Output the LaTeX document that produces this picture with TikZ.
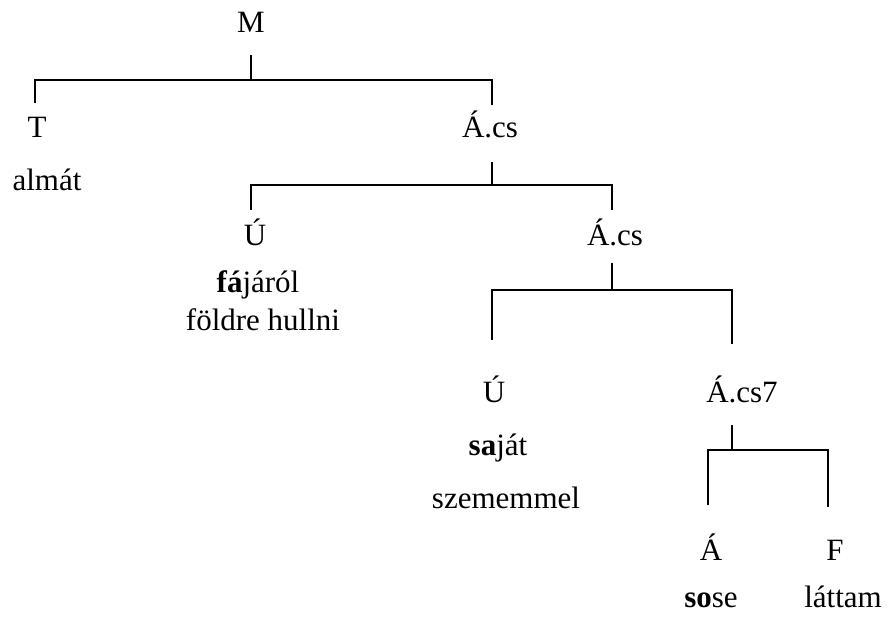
\documentclass[tikz,border=0pt]{standalone}
\usepackage{fontspec}
\setmainfont{Liberation Serif}
\begin{document}
\begin{tikzpicture}[x=1pt,y=-1pt,
  lbl/.style={anchor=base,inner sep=0pt,font=\fontsize{31}{37}\selectfont},
  tree/.style={line width=1.6pt,line cap=butt,line join=miter}]
\useasboundingbox (0,0) rectangle (887,621);
% labels
\node[lbl] (M) at (251,32) {M};
\node[lbl] (T) at (37,137) {T};
\node[lbl] (A1) at (490,137) {Á.cs};
\node[lbl] (almat) at (47,190) {almát};
\node[lbl] (U1) at (255,245) {Ú};
\node[lbl] (A2) at (615,245) {Á.cs};
\node[lbl] (fa) at (258,292) {\textbf{fá}járól};
\node[lbl] (fold) at (263,330) {földre hullni};
\node[lbl] (U2) at (494,402) {Ú};
\node[lbl] (A3) at (742,402) {Á.cs7};
\node[lbl] (sa) at (498,455) {\textbf{sa}ját};
\node[lbl] (szem) at (506,508) {szememmel};
\node[lbl] (A4) at (711,560) {Á};
\node[lbl] (F) at (835,560) {F};
\node[lbl] (so) at (711,607) {\textbf{so}se};
\node[lbl] (lat) at (843,607) {láttam};
% connector points
\coordinate (sM) at (251,55);  \coordinate (bM) at (251,80);
\coordinate (dT) at (35,103);  \coordinate (dA1) at (492,105);
\coordinate (sA1) at (492,162); \coordinate (bA1) at (492,185);
\coordinate (dU1) at (251,210); \coordinate (dA2) at (612,210);
\coordinate (sA2) at (612,263); \coordinate (bA2) at (612,290);
\coordinate (dU2) at (492,340); \coordinate (dA3) at (732,344);
\coordinate (sA3) at (732,425); \coordinate (bA3) at (732,450);
\coordinate (dA4) at (708,505); \coordinate (dF) at (828,507);
% brackets
\draw[tree] (sM) -- (bM);
\draw[tree] (dT) -- (dT |- bM) -- (dA1 |- bM) -- (dA1);
\draw[tree] (sA1) -- (bA1);
\draw[tree] (dU1) -- (dU1 |- bA1) -- (dA2 |- bA1) -- (dA2);
\draw[tree] (sA2) -- (bA2);
\draw[tree] (dU2) -- (dU2 |- bA2) -- (dA3 |- bA2) -- (dA3);
\draw[tree] (sA3) -- (bA3);
\draw[tree] (dA4) -- (dA4 |- bA3) -- (dF |- bA3) -- (dF);
\end{tikzpicture}
\end{document}
